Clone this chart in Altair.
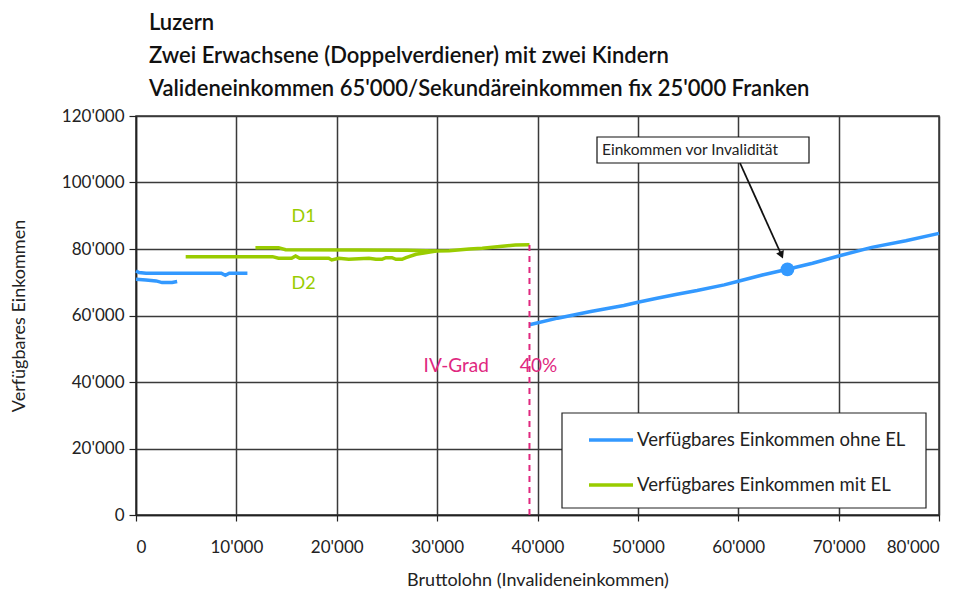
import altair as alt
import pandas as pd

# ---------------- data ----------------
SER_OHNE = "Verfügbares Einkommen ohne EL"
SER_MIT = "Verfügbares Einkommen mit EL"

ohne_a_x = [0, 300, 1000, 3000, 5000, 7000, 8500, 8900, 9300, 11100]
ohne_a_y = [73400, 72900, 72700, 72700, 72700, 72700, 72700, 72100, 72700, 72700]
ohne_b_x = [0, 1000, 2000, 2600, 3600, 4100]
ohne_b_y = [70900, 70700, 70400, 69900, 69900, 70200]
ohne_c_x = [39200, 42000, 45300, 48600, 50000, 51900, 53900, 55900, 58600, 60000,
            62400, 64900, 67400, 70000, 73300, 76700, 80000]
ohne_c_y = [57200, 59200, 61200, 63000, 64000, 65200, 66400, 67500, 69200, 70300,
            72200, 73900, 75700, 77900, 80500, 82500, 84700]

mit_d1_x = [11900, 14200, 14900, 22000, 27000, 29900]
mit_d1_y = [80400, 80400, 79800, 79700, 79600, 79400]
mit_d2_x = [4950, 13600, 14200, 15500, 15900, 16300, 19200, 19500, 20200, 21200, 23200,
            23900, 24500, 24900, 25500, 25900, 26500, 26900, 27900, 29900, 31200, 33200,
            34500, 36500, 37800, 39200]
mit_d2_y = [77700, 77700, 77200, 77200, 77900, 77200, 77200, 76700, 77200, 76900, 77200,
            76900, 76900, 77400, 77400, 76900, 76900, 77400, 78400, 79400, 79500, 80000,
            80200, 80800, 81200, 81300]

marker_x = [64900]
marker_y = [73900]

iv_x = [39200, 39200]
iv_y = [0, 81300]

label_text = ["D1", "D2"]
label_x = [16700, 16700]
label_y = [89600, 69500]

iv_text = ["IV-Grad", "40%"]
iv_text_x = [31900, 40100]
iv_text_y = [44800, 44800]

title_lines = ["Luzern",
               "Zwei Erwachsene (Doppelverdiener) mit zwei Kindern",
               "Valideneinkommen 65'000/Sekundäreinkommen fix 25'000 Franken"]

BLUE = "#3399ff"
GREEN = "#99cc00"
PINK = "#e0287f"
FONT = "Lato"

rows = []
for seg, (xs, ys, ser) in enumerate([(ohne_a_x, ohne_a_y, SER_OHNE),
                                     (ohne_b_x, ohne_b_y, SER_OHNE),
                                     (ohne_c_x, ohne_c_y, SER_OHNE),
                                     (mit_d1_x, mit_d1_y, SER_MIT),
                                     (mit_d2_x, mit_d2_y, SER_MIT)]):
    for i, (a, b) in enumerate(zip(xs, ys)):
        rows.append({"x": a, "y": b, "series": ser, "seg": seg, "i": i})
lines_df = pd.DataFrame(rows)

apos = "replace(format(datum.value, ','), /,/g, \"'\")"

xscale = alt.Scale(domain=[0, 80000], nice=False, zero=False)
yscale = alt.Scale(domain=[0, 120000], nice=False)

xenc = alt.X("x:Q", scale=xscale,
             axis=alt.Axis(values=list(range(0, 80001, 10000)), labelExpr=apos,
                           title="Bruttolohn (Invalideneinkommen)", titlePadding=16,
                           labelPadding=18, tickSize=6))
yenc = alt.Y("y:Q", scale=yscale,
             axis=alt.Axis(values=list(range(0, 120001, 20000)), labelExpr=apos,
                           title="Verfügbares Einkommen", titlePadding=33,
                           labelPadding=5, tickSize=7))

color = alt.Color("series:N", scale=alt.Scale(domain=[SER_OHNE, SER_MIT], range=[BLUE, GREEN]),
                  legend=None)

lines = alt.Chart(lines_df).mark_line(strokeWidth=3.5).encode(
    x=xenc, y=yenc, color=color, detail="seg:N", order="i:Q")

ivline = alt.Chart(pd.DataFrame({"x": iv_x, "y": iv_y})).mark_line(
    color=PINK, strokeWidth=2, strokeDash=[6, 5]).encode(x="x:Q", y="y:Q")

marker = alt.Chart(pd.DataFrame({"x": marker_x, "y": marker_y})).mark_point(
    shape="circle", filled=True, size=190, color=BLUE, opacity=1).encode(x="x:Q", y="y:Q")

dlabels = alt.Chart(pd.DataFrame({"x": label_x, "y": label_y, "t": label_text})).mark_text(
    font=FONT, fontSize=18, color=GREEN).encode(x="x:Q", y="y:Q", text="t:N")

ivlabels = alt.Chart(pd.DataFrame({"x": iv_text_x, "y": iv_text_y, "t": iv_text})).mark_text(
    font=FONT, fontSize=19, color=PINK).encode(x="x:Q", y="y:Q", text="t:N")

one = pd.DataFrame({"a": [0]})

# annotation box + arrow
ann_box = alt.Chart(one).mark_rect(fill="white", stroke="#111", strokeWidth=1.2).encode(
    x=alt.value(461), x2=alt.value(673), y=alt.value(21), y2=alt.value(47))
ann_text = alt.Chart(one).mark_text(font=FONT, fontSize=15.5, color="#222", align="left",
                                    baseline="middle").encode(
    x=alt.value(466), y=alt.value(34), text=alt.value("Einkommen vor Invalidität"))
arrow = alt.Chart(one).mark_rule(color="#111", strokeWidth=1.8).encode(
    x=alt.value(604), x2=alt.value(645), y=alt.value(47), y2=alt.value(138))
arrow_head = alt.Chart(one).mark_point(shape="triangle", filled=True, size=70, color="#111",
                                       opacity=1, angle=156).encode(
    x=alt.value(645), y=alt.value(138))

# legend box
leg_box = alt.Chart(one).mark_rect(fill="white", stroke="#222", strokeWidth=1.2).encode(
    x=alt.value(426), x2=alt.value(790), y=alt.value(297), y2=alt.value(392))
leg_df = pd.DataFrame({"series": [SER_OHNE, SER_MIT], "ly": [324, 369]})
leg_sym = alt.Chart(leg_df).mark_rule(strokeWidth=3.5).encode(
    x=alt.value(453), x2=alt.value(497), y=alt.Y("ly:Q", scale=None), color=color)
leg_txt = alt.Chart(leg_df).mark_text(font=FONT, fontSize=18.5, color="#222", align="left",
                                      baseline="middle").encode(
    x=alt.value(501), y=alt.Y("ly:Q", scale=None), text="series:N")

chart = alt.layer(
    lines, ivline, marker, dlabels, ivlabels,
    ann_box, ann_text, arrow, arrow_head,
    leg_box, leg_sym, leg_txt
).resolve_scale(color="shared").properties(
    width=803, height=399,
    padding={"left": 2, "top": 4, "right": 0, "bottom": 5},
    title=alt.TitleParams(text=title_lines, anchor="start", frame="group", dx=13, font=FONT,
                          fontSize=22, fontWeight=600, color="#111", lineHeight=33, offset=6)
).configure_view(stroke="#333", strokeWidth=1.5).configure_axis(
    gridColor="#3a3a3a", gridWidth=1.5, gridOpacity=1,
    domainColor="#222", domainWidth=1.5, tickColor="#222", tickWidth=1.2,
    labelFont=FONT, labelFontSize=17, labelColor="#222",
    titleFont=FONT, titleFontSize=18, titleFontWeight="normal", titleColor="#222"
)

chart.save("out.html", embed_options={"renderer": "svg", "actions": False})
